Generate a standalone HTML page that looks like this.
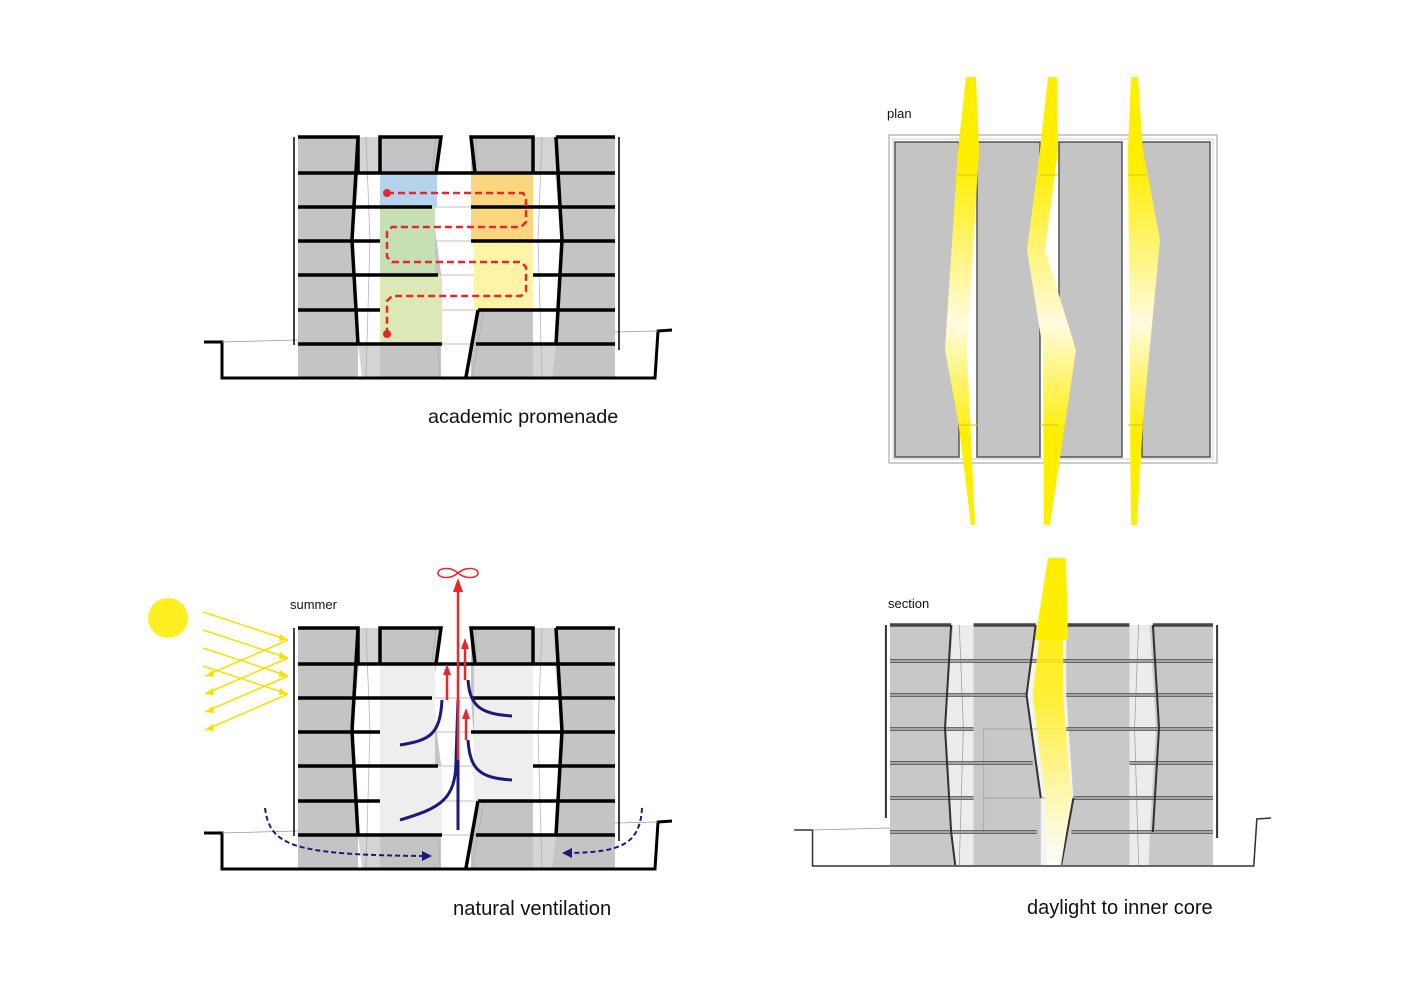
<!DOCTYPE html>
<html><head><meta charset="utf-8"><style>
html,body{margin:0;padding:0;background:#fff;}
svg{display:block;}
text{font-family:"Liberation Sans",sans-serif;fill:#111;}
</style></head><body>
<svg width="1415" height="1000" viewBox="0 0 1415 1000" xmlns="http://www.w3.org/2000/svg">
<defs>
<linearGradient id="ys" x1="0" y1="0" x2="0" y2="1">
<stop offset="0" stop-color="#ffee00"/><stop offset="0.2" stop-color="#ffee00"/><stop offset="0.55" stop-color="#fffbe0"/><stop offset="0.8" stop-color="#ffee00"/><stop offset="1" stop-color="#ffee00"/></linearGradient>
<linearGradient id="yb" x1="0" y1="0" x2="0" y2="1">
<stop offset="0" stop-color="#ffee00"/><stop offset="0.3" stop-color="#ffee20"/><stop offset="1" stop-color="#ffffff" stop-opacity="0.9"/></linearGradient>
<g id="base">
 <polygon points="298,137 358,137 352,240 358,344 358,377 298,377" fill="#c4c4c4"/>
 <polygon points="358,137 380,137 380,377 362,377 358,344 352,240" fill="#d4d4d4"/>
 <rect x="380" y="137" width="61" height="240" fill="#c4c4c4"/>
 <rect x="471" y="137" width="62" height="240" fill="#c4c4c4"/>
 <polygon points="533,137 556,137 562,240 556,344 552,377 533,377" fill="#d4d4d4"/>
 <polygon points="556,137 615,137 615,377 552,377 556,344 562,240" fill="#c4c4c4"/>
 <polygon points="359,173 380,173 380,344 359,344 353,240" fill="#fff"/>
 <polygon points="533,173 555,173 561,240 555,344 533,344" fill="#fff"/>
 <polygon points="441,137 471,137 471,207 478,310 466,377 446,377 446,310 432,207" fill="#fff"/>
 <g stroke="#aaa" stroke-width="0.7" fill="none">
  <line x1="298" y1="173" x2="615" y2="173"/><line x1="298" y1="207" x2="615" y2="207"/>
  <line x1="298" y1="241" x2="615" y2="241"/><line x1="298" y1="275" x2="615" y2="275"/>
  <line x1="298" y1="310" x2="615" y2="310"/><line x1="298" y1="344" x2="615" y2="344"/>
  <polyline points="366,137 370,240 366,377"/>
  <polyline points="542,137 538,240 542,377"/>
  <polyline points="436,137 428,207 436,310 440,377"/><polyline points="476,137 476,207 484,310 472,377"/>
 </g>
 <polyline points="204,342 222,342 222,378 655,378 658,331 672,330" fill="none" stroke="#000" stroke-width="3"/>
 <line x1="222" y1="342" x2="298" y2="340" stroke="#999" stroke-width="0.7"/>
 <line x1="615" y1="332" x2="658" y2="331" stroke="#999" stroke-width="0.7"/>
 <line x1="294" y1="137" x2="294" y2="345" stroke="#000" stroke-width="1.5"/>
 <line x1="619" y1="137" x2="619" y2="350" stroke="#000" stroke-width="1.5"/>
</g>
<g id="struct">
 <g stroke="#000" stroke-width="3.5" fill="none">
  <polyline points="298,137 358,137 358,173"/><polyline points="380,173 380,137 441,137 436,173"/>
  <polyline points="475,173 471,137 533,137 533,173"/><polyline points="556,137 615,137"/>
  <polyline points="358,137 352,240 358,344"/><polyline points="556,137 562,240 556,344"/>
  <line x1="298" y1="173" x2="615" y2="173"/>
  <line x1="298" y1="207" x2="432" y2="207"/><line x1="471" y1="207" x2="615" y2="207"/>
  <line x1="298" y1="241" x2="380" y2="241"/><line x1="471" y1="241" x2="615" y2="241"/>
  <line x1="298" y1="275" x2="438" y2="275"/><line x1="533" y1="275" x2="615" y2="275"/>
  <line x1="298" y1="310" x2="380" y2="310"/><line x1="478" y1="310" x2="615" y2="310"/>
  <line x1="298" y1="344" x2="442" y2="344"/><line x1="476" y1="344" x2="615" y2="344"/>
  <polyline points="478,310 466,377"/>
 </g>
</g>
</defs>

<use href="#base"/>
<rect x="380" y="173" width="57" height="34" fill="#b3d4ec"/>
<rect x="380" y="207" width="55" height="68" fill="#c6dfb4"/>
<rect x="380" y="275" width="62" height="69" fill="#dce9b6"/>
<rect x="471" y="173" width="62" height="68" fill="#fcd67f"/>
<rect x="474" y="241" width="59" height="69" fill="#fff3a8"/>
<use href="#struct"/>
<polyline points="387,193 523,193 526,198 526,222 521,227 392,227 387,232 387,257 392,262 521,262 526,267 526,291 521,296 392,296 387,301 387,334" fill="none" stroke="#e8262b" stroke-width="2.5" stroke-dasharray="7,4"/>
<circle cx="387" cy="193" r="4" fill="#e8262b"/><circle cx="387" cy="334" r="4" fill="#e8262b"/>
<text x="428" y="423" font-size="19.8">academic promenade</text>

<g transform="translate(0,491)">
<use href="#base"/>
<rect x="380" y="173" width="55" height="137" fill="#eeeeee"/>
<rect x="474" y="173" width="59" height="137" fill="#eeeeee"/>
<rect x="380" y="275" width="62" height="69" fill="#eeeeee"/>
<use href="#struct"/>
</g>
<text x="290" y="609" font-size="13">summer</text>
<circle cx="168" cy="618" r="20" fill="#ffee22"/>
<g stroke="#f5e100" stroke-width="1.5" fill="none">
<line x1="203" y1="612" x2="288" y2="640"/><line x1="203" y1="630" x2="288" y2="658"/>
<line x1="203" y1="648" x2="288" y2="676"/><line x1="203" y1="666" x2="288" y2="694"/>
<line x1="288" y1="640" x2="205" y2="676"/><line x1="288" y1="658" x2="205" y2="694"/>
<line x1="288" y1="676" x2="205" y2="712"/><line x1="288" y1="694" x2="205" y2="730"/>
</g>
<g fill="#f5e100"><polygon points="288,640 280,634 279,641"/><polygon points="288,658 280,652 279,659"/><polygon points="288,676 280,670 279,677"/><polygon points="288,694 280,688 279,695"/>
<polygon points="205,676 213,670 214,677"/><polygon points="205,694 213,688 214,695"/><polygon points="205,712 213,706 214,713"/><polygon points="205,730 213,724 214,731"/></g>
<g stroke="#1a1a7a" stroke-width="3" fill="none">
<path d="M400,820 C440,808 456,800 456,760 L458,700"/>
<path d="M400,745 C430,740 440,735 442,700"/>
<path d="M512,780 C480,778 470,770 468,740"/>
<path d="M512,716 C480,714 470,706 468,680"/>
<line x1="458" y1="830" x2="458" y2="760"/>
</g>
<g stroke="#e8262b" stroke-width="2.5" fill="none">
<line x1="458" y1="760" x2="458" y2="585"/><line x1="447" y1="700" x2="447" y2="668"/>
<line x1="466" y1="740" x2="466" y2="712"/><line x1="465" y1="680" x2="465" y2="644"/>
</g>
<g fill="#e8262b"><polygon points="458,578 453,592 463,592"/><polygon points="447,664 443,675 451,675"/><polygon points="466,708 462,719 470,719"/><polygon points="465,638 461,649 469,649"/></g>
<path d="M458,573 C450,566 438,568 438,573 C438,578 450,580 458,573 C466,566 478,568 478,573 C478,578 466,580 458,573" fill="none" stroke="#e8262b" stroke-width="1.5"/>
<g stroke="#1a1a7a" stroke-width="2" fill="none" stroke-dasharray="5,3">
<path d="M265,808 C270,845 290,855 425,856"/>
<path d="M642,808 C640,845 620,852 570,853"/>
</g>
<polygon points="432,856 422,851 422,861" fill="#1a1a7a"/><polygon points="562,853 572,848 572,858" fill="#1a1a7a"/>
<text x="453" y="915" font-size="20.2">natural ventilation</text>

<text x="887" y="118" font-size="13">plan</text>
<rect x="889" y="135" width="328" height="328" fill="#fff" stroke="#bbb" stroke-width="1.5"/>
<rect x="893" y="139" width="320" height="320" fill="none" stroke="#ccc" stroke-width="1"/>
<g fill="#c4c4c4" stroke="#555" stroke-width="1.5">
<rect x="895" y="142" width="64" height="315"/><rect x="977" y="142" width="63" height="315"/>
<rect x="1059" y="142" width="63" height="315"/><rect x="1142" y="142" width="68" height="315"/>
</g>
<g fill="url(#ys)">
<polygon points="966,77 976,77 979,150 967,350 975,525 971,525 958,420 945,350 958,150"/>
<polygon points="1048,77 1057,77 1058,150 1045,250 1076,350 1050,525 1044,525 1043,350 1027,250 1040,150"/>
<polygon points="1131,77 1138,77 1143,150 1160,240 1143,420 1137,525 1131,525 1130,420 1128,150"/>
</g>
<g stroke="#d9c400" stroke-width="1"><line x1="958" y1="175" x2="980" y2="175"/><line x1="958" y1="425" x2="978" y2="425"/>
<line x1="1040" y1="175" x2="1058" y2="175"/><line x1="1040" y1="425" x2="1058" y2="425"/>
<line x1="1128" y1="175" x2="1146" y2="175"/><line x1="1128" y1="425" x2="1146" y2="425"/></g>

<text x="888" y="608" font-size="13">section</text>
<g transform="translate(890,625) scale(1.019,1) translate(-298,-137)">
 <polygon points="298,137 615,137 615,377 298,377" fill="#c8c8c8"/>
 <polygon points="360,137 380,137 380,377 362,377 358,344 352,240" fill="#ececec"/>
 <polygon points="533,137 553,137 559,240 553,344 552,377 533,377" fill="#ececec"/>
 <polygon points="441,137 471,137 471,207 478,310 466,377 446,377 446,310 432,207" fill="#f4f4f4"/>
 <g stroke="#999" stroke-width="0.7" fill="none">
  <polyline points="366,137 370,240 366,377"/>
  <polyline points="542,137 538,240 542,377"/>
  <polyline points="390,241 390,344"/><polyline points="390,241 470,241"/><polyline points="390,310 470,310"/>
 </g>
 <g stroke="#444" stroke-width="3.5" fill="none">
  <line x1="298" y1="173" x2="615" y2="173"/>
  <line x1="298" y1="207" x2="432" y2="207"/><line x1="471" y1="207" x2="615" y2="207"/>
  <line x1="298" y1="241" x2="380" y2="241"/><line x1="471" y1="241" x2="615" y2="241"/>
  <line x1="298" y1="275" x2="438" y2="275"/><line x1="533" y1="275" x2="615" y2="275"/>
  <line x1="298" y1="310" x2="380" y2="310"/><line x1="478" y1="310" x2="615" y2="310"/>
  <line x1="298" y1="344" x2="442" y2="344"/><line x1="476" y1="344" x2="615" y2="344"/>
  <polyline points="298,137 358,137"/><polyline points="380,137 441,137"/><polyline points="471,137 533,137"/><polyline points="556,137 615,137"/>
 </g>
 <g stroke="#ddd" stroke-width="1.2" fill="none">
  <line x1="298" y1="173" x2="615" y2="173"/><line x1="298" y1="207" x2="432" y2="207"/><line x1="471" y1="207" x2="615" y2="207"/>
  <line x1="298" y1="241" x2="380" y2="241"/><line x1="471" y1="241" x2="615" y2="241"/>
  <line x1="298" y1="275" x2="438" y2="275"/><line x1="533" y1="275" x2="615" y2="275"/>
  <line x1="298" y1="310" x2="380" y2="310"/><line x1="478" y1="310" x2="615" y2="310"/>
  <line x1="298" y1="344" x2="442" y2="344"/><line x1="476" y1="344" x2="615" y2="344"/>
 </g>
 <g stroke="#333" stroke-width="2" fill="none">
  <polyline points="358,137 352,240 358,344 362,377"/><polyline points="556,137 562,240 556,344"/>
  <polyline points="441,137 432,207 446,310"/><polyline points="478,310 466,377"/>
  <line x1="294" y1="137" x2="294" y2="330"/><line x1="619" y1="137" x2="619" y2="350"/>
 </g>
 <polygon points="446,137 468,137 468,207 476,310 466,377 452,377 450,310 438,207" fill="url(#yb)" opacity="0.9"/>
 <polyline points="204,342 222,342 222,378 655,378 658,331 672,330" fill="none" stroke="#333" stroke-width="1.5"/>
 <line x1="222" y1="342" x2="298" y2="340" stroke="#999" stroke-width="0.7"/>
</g>
<polygon points="1048,558 1066,558 1068,640 1035,640" fill="#ffee00"/>
<text x="1027" y="914" font-size="20">daylight to inner core</text>
</svg>
</body></html>
